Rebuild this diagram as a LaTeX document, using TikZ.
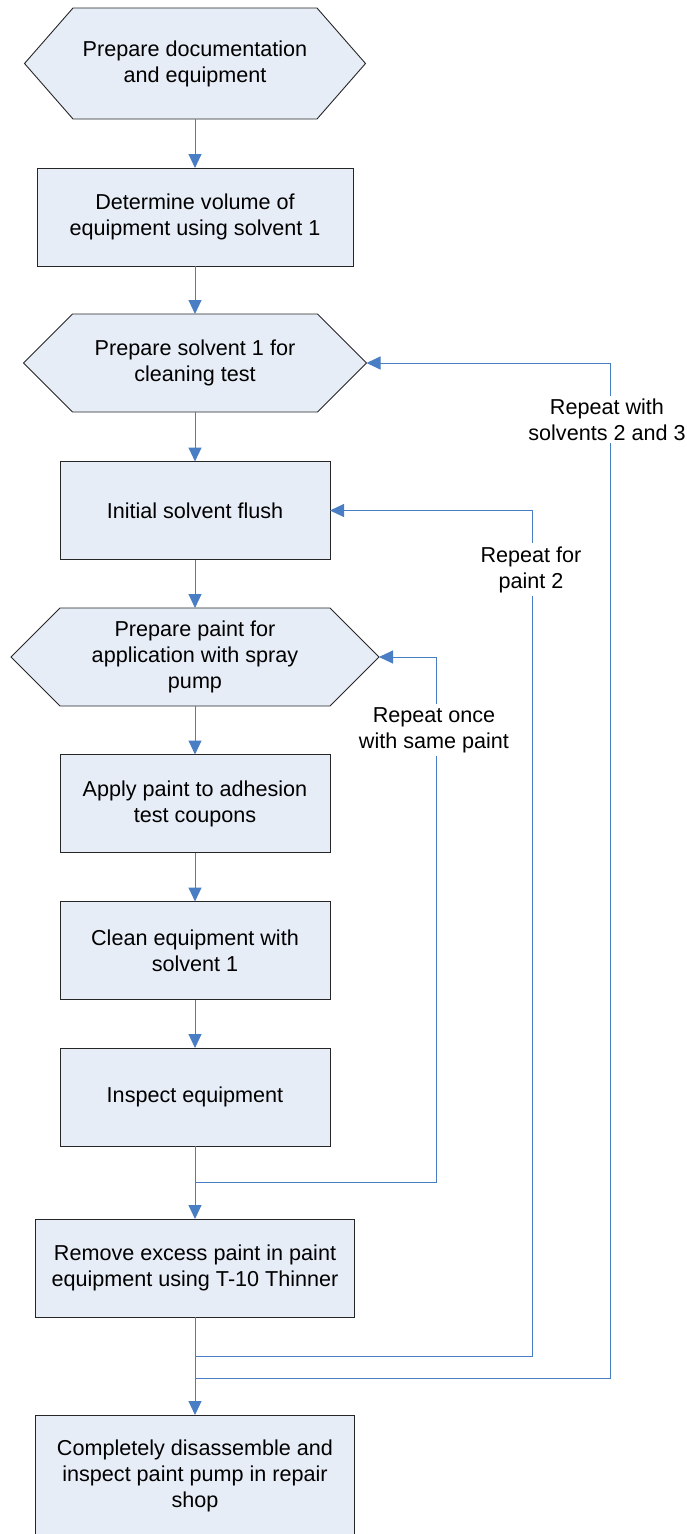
\documentclass[tikz,border=0pt]{standalone}
\usepackage{fontspec}
\setmainfont{Liberation Sans}
\usetikzlibrary{arrows.meta,backgrounds}
\definecolor{connblue}{RGB}{74,126,196}
\definecolor{boxfill}{RGB}{231,237,247}
\definecolor{boxline}{RGB}{38,38,38}
\tikzset{
  txt/.style={font=\fontsize{21.6}{26}\selectfont, align=center},
  stepbox/.style={txt, draw=boxline, fill=boxfill, line width=0.9pt, minimum height=98pt, inner sep=0pt, outer sep=0pt},
  hexnode/.style={txt, minimum height=98pt, inner sep=0pt, outer sep=0pt},
  hexshape/.style={draw=boxline, fill=boxfill, line width=0.9pt, line join=miter},
  link/.style={draw=connblue, line width=1pt, -{Triangle[length=14pt,width=13pt]}},
  lbl/.style={txt, fill=white, inner xsep=2pt, inner ysep=3pt}
}
\begin{document}
\begin{tikzpicture}[x=1pt,y=-1pt]
\useasboundingbox (0,0) rectangle (686,1534);
% nodes
\node[hexnode, minimum width=244pt, minimum height=111pt] (h1) at (195,63.5) {Prepare documentation\\and equipment};
\node[stepbox, minimum width=316pt] (b2) at (195,217) {Determine volume of\\equipment using solvent 1};
\node[hexnode, minimum width=245pt] (h3) at (195,363) {Prepare solvent 1 for\\cleaning test};
\node[stepbox, minimum width=270pt] (b4) at (195,510.5) {Initial solvent flush};
\node[hexnode, minimum width=270pt] (h5) at (195,657) {Prepare paint for\\application with spray\\pump};
\node[stepbox, minimum width=270pt] (b6) at (195,803.5) {Apply paint to adhesion\\test coupons};
\node[stepbox, minimum width=270pt] (b7) at (195,950.5) {Clean equipment with\\solvent 1};
\node[stepbox, minimum width=270pt] (b8) at (195,1097) {Inspect equipment};
\node[stepbox, minimum width=319pt] (b9) at (195,1268) {Remove excess paint in paint\\equipment using T-10 Thinner};
\node[stepbox, minimum width=319pt, minimum height=122pt] (b10) at (195,1476) {Completely disassemble and\\inspect paint pump in repair\\shop};
% hexagon tips
\coordinate (h1e) at ([xshift=48.5]h1.east);
\coordinate (h1w) at ([xshift=-48.5]h1.west);
\coordinate (h3e) at ([xshift=49]h3.east);
\coordinate (h3w) at ([xshift=-49]h3.west);
\coordinate (h5e) at ([xshift=49]h5.east);
\coordinate (h5w) at ([xshift=-49]h5.west);
\begin{scope}[on background layer]
\draw[hexshape] (h1.north west) -- (h1.north east) -- (h1e) -- (h1.south east) -- (h1.south west) -- (h1w) -- cycle;
\draw[hexshape] (h3.north west) -- (h3.north east) -- (h3e) -- (h3.south east) -- (h3.south west) -- (h3w) -- cycle;
\draw[hexshape] (h5.north west) -- (h5.north east) -- (h5e) -- (h5.south east) -- (h5.south west) -- (h5w) -- cycle;
\end{scope}
% merge points
\coordinate (m1) at (195,1182);
\coordinate (m2) at (195,1356);
\coordinate (m3) at (195,1378);
% main flow
\draw[link] (h1.south) -- (b2.north);
\draw[link] (b2.south) -- (h3.north);
\draw[link] (h3.south) -- (b4.north);
\draw[link] (b4.south) -- (h5.north);
\draw[link] (h5.south) -- (b6.north);
\draw[link] (b6.south) -- (b7.north);
\draw[link] (b7.south) -- (b8.north);
\draw[link] (b8.south) -- (b9.north);
\draw[link] (b9.south) -- (b10.north);
% loops
\draw[link] (m1) -- ++(241,0) |- (h5e);
\draw[link] (m2) -- ++(337,0) |- (b4.east);
\draw[link] (m3) -- ++(415,0) |- (h3e);
% labels
\node[lbl] (l1) at (607,419.5) {Repeat with\\solvents 2 and 3};
\node[lbl] (l2) at (531,569.5) {Repeat for\\paint 2};
\node[lbl] (l3) at (434,730) {Repeat once\\with same paint};
\end{tikzpicture}
\end{document}
